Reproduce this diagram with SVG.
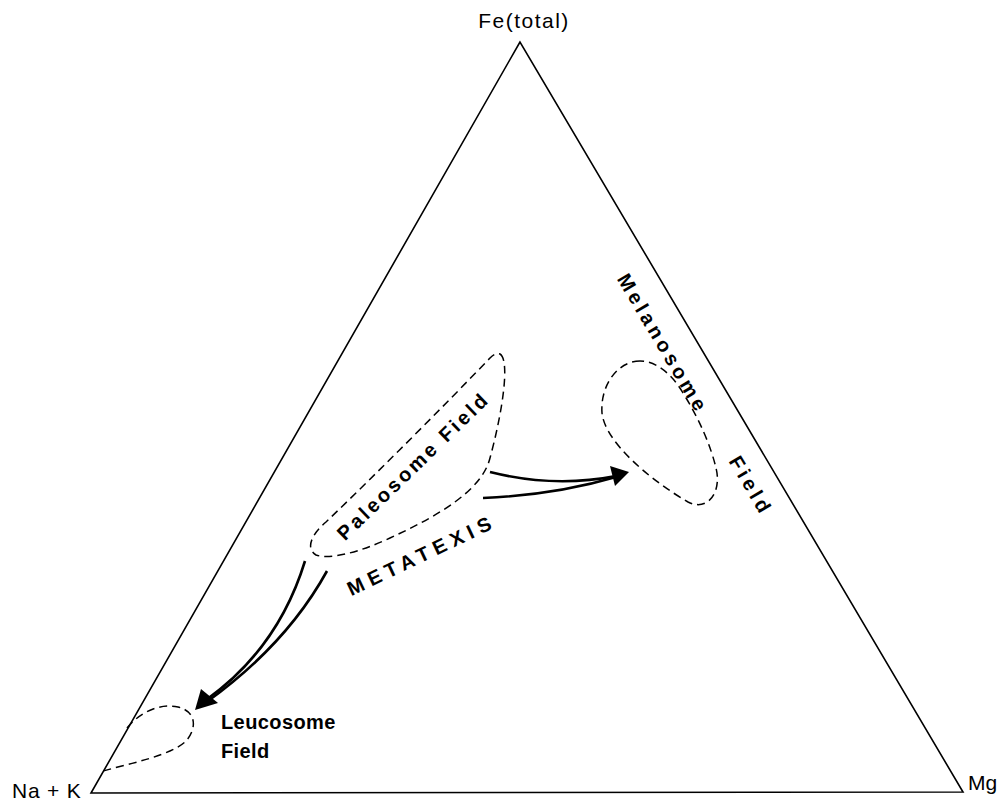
<svg xmlns="http://www.w3.org/2000/svg" width="1005" height="803" viewBox="0 0 1005 803">
<style>
.edge{fill:none;stroke:#000;stroke-width:1.6}
.field{fill:none;stroke:#000;stroke-width:1.5;stroke-dasharray:8 5}
.arr{fill:none;stroke:#000;stroke-width:2.6}
.head{fill:#000}
.vx{font-family:"Liberation Sans",Arial,sans-serif;font-size:21px;fill:#000}
.lb{font-family:"Liberation Sans",Arial,sans-serif;font-size:20px;font-weight:bold;fill:#000}
</style>
<rect width="1005" height="803" fill="#fff"/>
<g id="triangle">
<path class="edge" d="M520,42 L91,793 L963,792 Z"/>
</g>
<g id="vertex-fe"><text class="vx" x="524" y="28" text-anchor="middle" letter-spacing="1.5">Fe(total)</text></g>
<g id="vertex-nak"><text class="vx" x="12" y="798" letter-spacing="0.8">Na + K</text></g>
<g id="vertex-mg"><text class="vx" x="968" y="790">Mg</text></g>
<g id="paleosome">
<path class="field" d="M500,354 C510,360 503,410 490,458 C482,490 440,515 390,538 C360,552 330,560 316,555 C305,548 312,534 326,522 C380,470 440,410 490,358 C494,354 497,353 500,354 Z"/>
<text class="lb" transform="translate(417,472) rotate(-44)" x="1.5" text-anchor="middle" letter-spacing="3">Paleosome Field</text>
</g>
<g id="melanosome">
<path class="field" d="M640,361 C618,361 600,385 602,413 C605,442 650,480 688,502 C708,512 722,492 716,468 C711,447 700,420 683,393 C672,374 656,361 640,361 Z"/>
<text class="lb" transform="translate(656,345.5) rotate(59.4)" x="2" text-anchor="middle" letter-spacing="3.8">Melanosome</text>
<text class="lb" transform="translate(744,487.5) rotate(59.4)" x="2" text-anchor="middle" letter-spacing="3.8">Field</text>
</g>
<g id="leucosome">
<path class="field" d="M127,728 C140,712 160,703 178,707 C198,712 196,730 186,741 C172,755 132,763 103,771"/>
<text class="lb" x="221" y="729" letter-spacing="0.4">Leucosome</text>
<text class="lb" x="221" y="758" letter-spacing="0.4">Field</text>
</g>
<g id="metatexis">
<text class="lb" transform="translate(422,562.5) rotate(-25.5)" x="3" text-anchor="middle" letter-spacing="5.7">METATEXIS</text>
</g>
<g id="connectors">
<path class="arr" d="M490,472 C530,482 570,485 616,476"/>
<path class="arr" d="M483,498 C530,496 572,490 616,477"/>
<polygon class="head" points="629,472 610,466 615,486"/>
<path class="arr" d="M305,561 C290,610 262,660 206,700"/>
<path class="arr" d="M327,571 C300,620 262,662 208,701"/>
<polygon class="head" points="195,710 201,689 218,703"/>
</g>
</svg>
